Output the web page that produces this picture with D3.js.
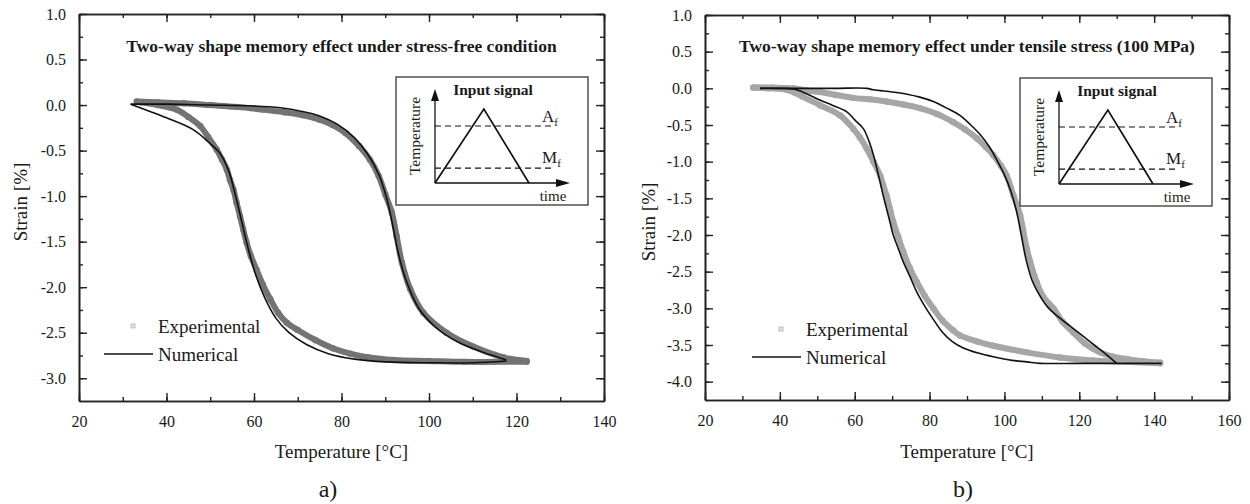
<!DOCTYPE html>
<html>
<head>
<meta charset="utf-8">
<script src="https://cdn.jsdelivr.net/npm/d3@7"></script>
<style>
  body { margin: 0; background: #fff; }
  svg text { font-family: "Liberation Serif", "Times New Roman", serif; fill: #1a1a1a; }
</style>
</head>
<body>
<svg id="chart" width="1250" height="504"></svg>
<script>
// a) stress-free condition  [temperature °C, strain %]
const expUpperA = [[33.2,0.04],[38,0.03],[44,0.02],[50,0.0],[56,-0.02],[62,-0.05],[67,-0.08],[71,-0.11],[75,-0.16],[78,-0.22],[81,-0.31],[84,-0.45],[86.5,-0.6],[88.5,-0.78],[90,-0.98],[91.5,-1.18],[92.6,-1.44],[93.8,-1.73],[95.7,-2.02],[98.7,-2.28],[104,-2.5],[110,-2.65],[117,-2.77],[122.3,-2.81]];
const expLowerA = [[122.3,-2.82],[115,-2.82],[108,-2.82],[100,-2.81],[92,-2.8],[86,-2.77],[82,-2.73],[78,-2.67],[74,-2.58],[70,-2.47],[67.5,-2.39],[65.5,-2.28],[63.7,-2.13],[62,-1.97],[60.6,-1.81],[59.3,-1.66],[58.3,-1.51],[57.5,-1.36],[56.8,-1.22],[56,-1.07],[55.3,-0.93],[54.5,-0.82],[53.8,-0.71],[52.7,-0.6],[51.5,-0.49],[49.5,-0.35],[47.7,-0.23],[45,-0.13],[42.3,-0.05],[38,0.0],[34,0.03]];
const numUpperA = [[31.8,0.01],[40,0.01],[50,0.0],[60,-0.01],[66,-0.03],[71,-0.07],[75,-0.12],[79,-0.21],[83,-0.36],[86,-0.54],[88.5,-0.76],[90.3,-1.02],[91.7,-1.32],[93,-1.63],[94.8,-1.93],[97.5,-2.22],[101.5,-2.44],[106.5,-2.6],[112,-2.71],[117.7,-2.8]];
const numLowerA = [[117.7,-2.81],[110,-2.83],[100,-2.83],[90,-2.82],[83,-2.79],[77,-2.73],[72,-2.63],[68,-2.5],[65,-2.34],[62.5,-2.12],[60.5,-1.88],[58.8,-1.6],[57.3,-1.3],[55.8,-1.0],[54.2,-0.72],[52.2,-0.53],[49.9,-0.42],[46.1,-0.27],[40,-0.14],[31.8,0.01]];

// b) tensile stress 100 MPa
const expUpperB = [[32.9,0.01],[38,0.01],[43.6,0.0],[47,-0.03],[50.7,-0.05],[55,-0.09],[59.6,-0.13],[64,-0.15],[68.5,-0.18],[73,-0.22],[77.4,-0.27],[82,-0.35],[86.3,-0.46],[89.5,-0.56],[92.6,-0.68],[95,-0.8],[97,-0.91],[99,-1.05],[100.6,-1.19],[102.4,-1.46],[104.2,-1.73],[106,-2.19],[108.6,-2.64],[110.5,-2.85],[113.1,-3.0],[115.5,-3.18],[118.4,-3.33],[121.5,-3.48],[125.5,-3.6],[129,-3.66],[132.7,-3.69],[137,-3.72],[141.6,-3.74]];
const expLowerB = [[141.6,-3.75],[132.7,-3.73],[123.7,-3.71],[114.8,-3.67],[106,-3.6],[97,-3.51],[92.6,-3.45],[88.1,-3.37],[86.3,-3.3],[83.5,-3.17],[81,-3.0],[78.7,-2.83],[76.6,-2.64],[74.7,-2.45],[73,-2.23],[71.6,-2.02],[70.3,-1.82],[69.4,-1.64],[68.5,-1.46],[67.6,-1.32],[66.8,-1.19],[65,-1.0],[63.2,-0.82],[61.4,-0.67],[59.6,-0.55],[56.1,-0.37],[50.7,-0.23],[46,-0.11],[41.8,-0.02],[37,0.0],[32.9,0.01]];
const numUpperB = [[34.7,0.0],[45,0.0],[55,0.0],[63.2,0.0],[65,-0.02],[70,-0.05],[74,-0.08],[77.4,-0.12],[81,-0.18],[84.6,-0.27],[88.1,-0.37],[90.8,-0.49],[93.5,-0.63],[96,-0.8],[98,-0.98],[100,-1.18],[101.7,-1.4],[103.2,-1.67],[104.5,-2.0],[105.8,-2.34],[107.4,-2.62],[109.5,-2.83],[111.5,-2.98],[114,-3.1],[117.5,-3.24],[121,-3.38],[124,-3.5],[127,-3.62],[130,-3.75]];
const numLowerB = [[142,-3.75],[130,-3.75],[120,-3.75],[109.5,-3.75],[106,-3.73],[102,-3.71],[97,-3.66],[93,-3.61],[89,-3.54],[86,-3.45],[83.5,-3.33],[81,-3.15],[78.7,-2.97],[76.6,-2.78],[74.8,-2.57],[73,-2.37],[71.6,-2.18],[70.3,-2.0],[69.4,-1.82],[68.5,-1.64],[67.6,-1.46],[66.8,-1.28],[65,-0.91],[63.8,-0.72],[62.3,-0.55],[60,-0.43],[57.9,-0.32],[54,-0.23],[50.7,-0.16],[47,-0.07],[43.6,-0.01],[39,0.0],[34.7,0.0]];

// ticks
const tempTicksA = [20, 40, 60, 80, 100, 120, 140];
const tempTicksB = [20, 40, 60, 80, 100, 120, 140, 160];
const strainTicksA = [1.0, 0.5, 0.0, -0.5, -1.0, -1.5, -2.0, -2.5, -3.0];
const strainTicksB = [1.0, 0.5, 0.0, -0.5, -1.0, -1.5, -2.0, -2.5, -3.0, -3.5, -4.0];

// input signal schematic (normalised time / temperature)
const signalTime = [0, 0.52, 1.0];
const signalTemp = [0, 1.0, 0];
const afLevel = 0.77, mfLevel = 0.2;

const svg = d3.select("#chart");

function drawPanel(p) {
    const x = d3.scaleLinear().domain(p.xDomain).range(p.xRange);
    const y = d3.scaleLinear().domain(p.yDomain).range(p.yRange);
    const g = svg.append("g");
    const [x0, x1] = p.xRange, [y0, y1] = p.yRange;

    const minorX = d3.range(p.xDomain[0], p.xDomain[1] + 0.01, 10);
    const minorY = d3.range(p.yDomain[0] + 0.25, p.yDomain[1] + 0.01, 0.25);

    const style = sel => {
        sel.select(".domain").attr("stroke", "#222").attr("stroke-width", 1.6);
        sel.selectAll(".tick line").attr("stroke", "#222").attr("stroke-width", 1.4);
        sel.selectAll(".tick text").style("font-size", "16px").attr("fill", "#1a1a1a");
    };

    // minor ticks
    g.append("g").attr("transform", `translate(0,${y0})`)
        .call(d3.axisBottom(x).tickValues(minorX).tickSize(-4).tickSizeOuter(0).tickFormat("")).call(style);
    g.append("g").attr("transform", `translate(0,${y1})`)
        .call(d3.axisTop(x).tickValues(minorX).tickSize(-4).tickSizeOuter(0).tickFormat("")).call(style);
    g.append("g").attr("transform", `translate(${x0},0)`)
        .call(d3.axisLeft(y).tickValues(minorY).tickSize(-4).tickSizeOuter(0).tickFormat("")).call(style);
    g.append("g").attr("transform", `translate(${x1},0)`)
        .call(d3.axisRight(y).tickValues(minorY).tickSize(-4).tickSizeOuter(0).tickFormat("")).call(style);

    // major ticks
    g.append("g").attr("transform", `translate(0,${y0})`)
        .call(d3.axisBottom(x).tickValues(p.xTicks).tickSize(-8).tickSizeOuter(0).tickPadding(15).tickFormat(d3.format("d"))).call(style);
    g.append("g").attr("transform", `translate(0,${y1})`)
        .call(d3.axisTop(x).tickValues(p.xTicks).tickSize(-8).tickSizeOuter(0).tickFormat("")).call(style);
    g.append("g").attr("transform", `translate(${x0},0)`)
        .call(d3.axisLeft(y).tickValues(p.yTicks).tickSize(-8).tickSizeOuter(0).tickPadding(13).tickFormat(d3.format(".1f"))).call(style);
    g.append("g").attr("transform", `translate(${x1},0)`)
        .call(d3.axisRight(y).tickValues(p.yTicks).tickSize(-8).tickSizeOuter(0).tickFormat("")).call(style);
    g.selectAll(".tick text").filter(function () { return this.textContent.startsWith("−"); })
        .text(function () { return "-" + this.textContent.slice(1); });

    const line = d3.line().x(d => x(d[0])).y(d => y(d[1])).curve(d3.curveCatmullRom);

    // experimental band
    [p.expUpper, p.expLower].forEach(branch => {
        g.append("path").datum(branch)
            .attr("fill", "none")
            .attr("stroke", p.expColor)
            .attr("stroke-width", 6)
            .attr("stroke-linecap", "round")
            .attr("stroke-linejoin", "round")
            .attr("d", line);
        g.selectAll(null).data(branch).enter().append("circle")
            .attr("cx", d => x(d[0]))
            .attr("cy", d => y(d[1]))
            .attr("r", 3.2)
            .attr("fill", p.expColor);
    });

    // numerical
    [p.numUpper, p.numLower].forEach(branch => {
        g.append("path").datum(branch)
            .attr("fill", "none")
            .attr("stroke", "#111")
            .attr("stroke-width", 1.6)
            .attr("d", line);
    });

    // title
    g.append("text")
        .attr("x", (x0 + x1) / 2)
        .attr("y", 52)
        .attr("text-anchor", "middle")
        .style("font-size", "17.5px")
        .style("font-weight", "bold")
        .text(p.title);

    // axis labels
    g.append("text")
        .attr("x", (x0 + x1) / 2)
        .attr("y", 458)
        .attr("text-anchor", "middle")
        .style("font-size", "19px")
        .text("Temperature [°C]");
    g.append("text")
        .attr("transform", `translate(${p.yLabel[0]},${p.yLabel[1]}) rotate(-90)`)
        .attr("text-anchor", "middle")
        .style("font-size", "19px")
        .text("Strain [%]");
    g.append("text")
        .attr("x", p.tagX)
        .attr("y", 497)
        .attr("text-anchor", "middle")
        .style("font-size", "24px")
        .text(p.tag);

    // legend
    const lg = g.append("g").attr("transform", `translate(${p.legend[0]},${p.legend[1]})`);
    lg.append("rect").attr("x", 27).attr("y", -2).attr("width", 4).attr("height", 4)
        .attr("fill", "#e4e4e4").attr("stroke", "#b5b5b5").attr("stroke-width", 0.8);
    lg.append("text").attr("x", 54).attr("y", 7).style("font-size", "19px").text("Experimental");
    lg.append("line").attr("x1", 0).attr("x2", 49).attr("y1", 28).attr("y2", 28)
        .attr("stroke", "#111").attr("stroke-width", 1.6);
    lg.append("text").attr("x", 54).attr("y", 35).style("font-size", "19px").text("Numerical");

    // inset: input signal
    const bx = p.inset[0], by = p.inset[1];
    const ig = g.append("g");
    ig.append("rect").attr("x", bx).attr("y", by).attr("width", 192).attr("height", 128)
        .attr("fill", "#fff").attr("stroke", "#444").attr("stroke-width", 1.4);
    const ix = d3.scaleLinear().domain([0, 1]).range([bx + 39, bx + 133]);
    const iy = d3.scaleLinear().domain([0, 1]).range([by + 106, by + 32]);
    const ox = ix(0), oy = iy(0);
    ig.append("line").attr("x1", ox).attr("y1", oy).attr("x2", ox).attr("y2", by + 22)
        .attr("stroke", "#111").attr("stroke-width", 1.3);
    ig.append("path").attr("d", `M${ox - 4},${by + 24} L${ox},${by + 12} L${ox + 4},${by + 24} Z`).attr("fill", "#111");
    ig.append("line").attr("x1", ox).attr("y1", oy).attr("x2", bx + 162).attr("y2", oy)
        .attr("stroke", "#111").attr("stroke-width", 1.3);
    ig.append("path").attr("d", `M${bx + 160},${oy - 4} L${bx + 174},${oy} L${bx + 160},${oy + 4} Z`).attr("fill", "#111");
    [afLevel, mfLevel].forEach(lv => {
        ig.append("line").attr("x1", ox).attr("x2", bx + 157).attr("y1", iy(lv)).attr("y2", iy(lv))
            .attr("stroke", "#111").attr("stroke-width", 1.2).attr("stroke-dasharray", "6,4");
    });
    ig.append("path").datum(d3.zip(signalTime, signalTemp))
        .attr("fill", "none").attr("stroke", "#111").attr("stroke-width", 1.7)
        .attr("d", d3.line().x(d => ix(d[0])).y(d => iy(d[1])));
    ig.append("text").attr("x", bx + 97).attr("y", by + 18).attr("text-anchor", "middle")
        .style("font-size", "15.5px").style("font-weight", "bold").text("Input signal");
    ig.append("text").attr("transform", `translate(${bx + 24},${by + 59}) rotate(-90)`)
        .attr("text-anchor", "middle").style("font-size", "15.5px").text("Temperature");
    ig.append("text").attr("x", bx + 157).attr("y", by + 124).attr("text-anchor", "middle")
        .style("font-size", "15px").text("time");
    const subLabel = (txt, lv, dy) => {
        const t = ig.append("text").attr("x", bx + 146).attr("y", iy(lv) + dy).style("font-size", "17px");
        t.append("tspan").text(txt);
        t.append("tspan").attr("dy", 4).style("font-size", "11px").text("f");
    };
    subLabel("A", afLevel, -4);
    subLabel("M", mfLevel, -5);
}

drawPanel({
    xDomain: [20, 140], xRange: [79, 604],
    yDomain: [-3.25, 1.0], yRange: [401, 14],
    xTicks: tempTicksA, yTicks: strainTicksA,
    expUpper: expUpperA, expLower: expLowerA,
    numUpper: numUpperA, numLower: numLowerA,
    expColor: "#737373",
    title: "Two-way shape memory effect under stress-free condition",
    yLabel: [27, 202], tag: "a)", tagX: 328,
    legend: [104, 326], inset: [396, 77]
});

drawPanel({
    xDomain: [20, 160], xRange: [705, 1229],
    yDomain: [-4.25, 1.0], yRange: [400, 15],
    xTicks: tempTicksB, yTicks: strainTicksB,
    expUpper: expUpperB, expLower: expLowerB,
    numUpper: numUpperB, numLower: numLowerB,
    expColor: "#a6a6a6",
    title: "Two-way shape memory effect under tensile stress (100 MPa)",
    yLabel: [655, 222], tag: "b)", tagX: 963,
    legend: [752, 329], inset: [1020, 78]
});
</script>
</body>
</html>
